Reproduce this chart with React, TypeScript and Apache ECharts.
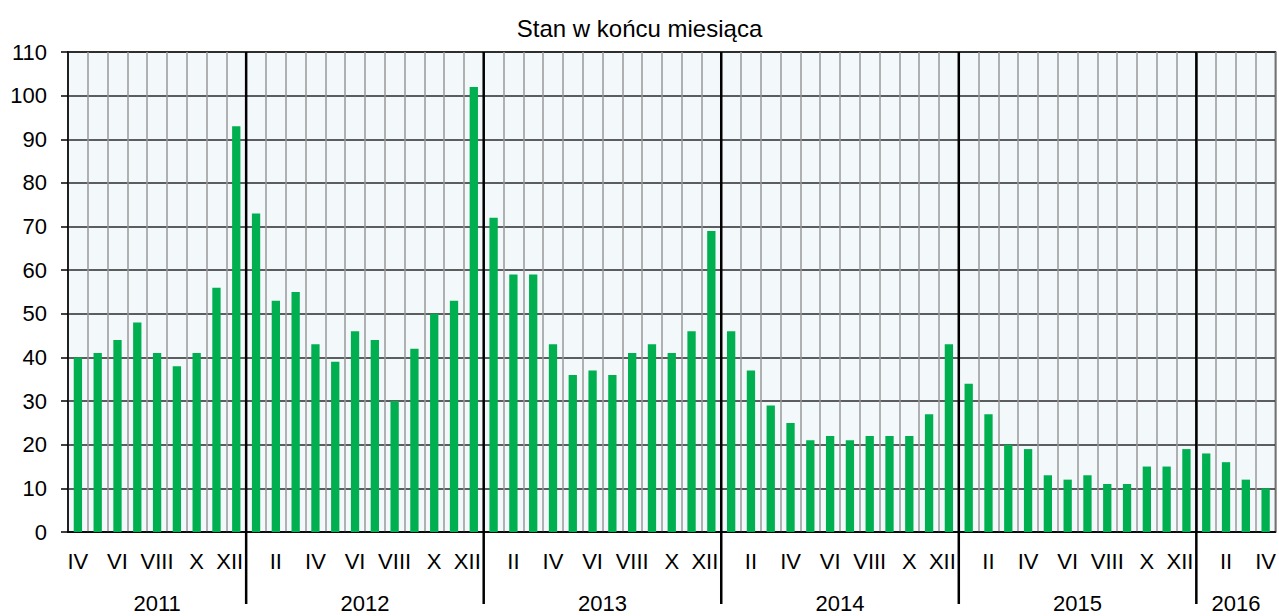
import React, { useEffect, useRef } from "react";
import * as echarts from "echarts";

const titleText = "Stan w końcu miesiąca";
const romanMonths = ["I", "II", "III", "IV", "V", "VI", "VII", "VIII", "IX", "X", "XI", "XII"];
const years = ["2011", "2012", "2013", "2014", "2015", "2016"];
const firstMonthOfYear = [4, 1, 1, 1, 1, 1];

const values2011 = [40, 41, 44, 48, 41, 38, 41, 56, 93];
const values2012 = [73, 53, 55, 43, 39, 46, 44, 30, 42, 50, 53, 102];
const values2013 = [72, 59, 59, 43, 36, 37, 36, 41, 43, 41, 46, 69];
const values2014 = [46, 37, 29, 25, 21, 22, 21, 22, 22, 22, 27, 43];
const values2015 = [34, 27, 20, 19, 13, 12, 13, 11, 11, 15, 15, 19];
const values2016 = [18, 16, 12, 10];
const valuesByYear = [values2011, values2012, values2013, values2014, values2015, values2016];

const yMin = 0;
const yMax = 110;
const yInterval = 10;

const FONT = "'Liberation Sans', Arial, Helvetica, sans-serif";

export default function App() {
  const ref = useRef<HTMLDivElement>(null);

  useEffect(() => {
    if (!ref.current) return;
    const chart = echarts.init(ref.current, null, { renderer: "svg" });

    const categories: string[] = [];
    const monthNums: number[] = [];
    const values: number[] = [];
    const spans: { start: number; end: number; label: string }[] = [];
    valuesByYear.forEach((arr, yi) => {
      const start = categories.length;
      arr.forEach((v, i) => {
        const m = firstMonthOfYear[yi] + i;
        categories.push(years[yi] + "-" + romanMonths[m - 1]);
        monthNums.push(m);
        values.push(v);
      });
      spans.push({ start, end: categories.length - 1, label: years[yi] });
    });

    const option: any = {
      animation: false,
      title: {
        text: titleText,
        left: "center",
        top: 11,
        textStyle: { fontFamily: FONT, fontSize: 24, fontWeight: "normal", color: "#000" },
      },
      grid: {
        left: 68,
        right: 2,
        top: 52,
        bottom: 84,
        show: true,
        backgroundColor: "#f3f8fb",
        borderColor: "#000",
        borderWidth: 1.5,
      },
      xAxis: {
        type: "category",
        data: categories,
        boundaryGap: true,
        axisLine: { show: true, lineStyle: { color: "#000", width: 1.5 } },
        axisTick: { show: false },
        splitLine: { show: true, interval: 0, lineStyle: { color: "#999", width: 1.5 } },
        axisLabel: {
          interval: 0,
          margin: 18,
          fontFamily: FONT,
          fontSize: 22,
          color: "#000",
          formatter: (_v: string, idx: number) => {
            const m = monthNums[idx];
            if (m % 2 !== 0) return "";
            return m === 12 ? "{end|XII}" : romanMonths[m - 1];
          },
          rich: {
            end: { fontFamily: FONT, fontSize: 22, color: "#000", padding: [0, 13, 0, 0] },
          },
        },
      },
      yAxis: {
        type: "value",
        min: yMin,
        max: yMax,
        interval: yInterval,
        axisLine: { show: true, lineStyle: { color: "#000", width: 1.5 } },
        axisTick: { show: true, inside: false, length: 7, lineStyle: { color: "#000", width: 1.5 } },
        splitLine: { show: true, lineStyle: { color: "#2a2a2a", width: 1.5 } },
        axisLabel: { margin: 21, fontFamily: FONT, fontSize: 22, color: "#000" },
      },
      series: [
        {
          type: "bar",
          data: values,
          barWidth: "42%",
          itemStyle: { color: "#00b050" },
          z: 2,
        },
        {
          type: "custom",
          z: 5,
          clip: false,
          data: spans.map((s) => [s.start, 0]),
          encode: { x: 0, y: 1 },
          renderItem: (params: any, api: any) => {
            const s = spans[params.dataIndex];
            const bw = api.size([1, 0])[0];
            const top = api.coord([s.start, yMax])[1];
            const bottom = api.coord([s.start, yMin])[1];
            const x0 = api.coord([s.start, 0])[0] - bw / 2;
            const x1 = api.coord([s.end, 0])[0] + bw / 2;
            const children: any[] = [
              {
                type: "text",
                style: {
                  text: s.label,
                  x: (x0 + x1) / 2,
                  y: bottom + 71,
                  align: "center",
                  verticalAlign: "middle",
                  fontFamily: FONT,
                  fontSize: 22,
                  fill: "#000",
                },
              },
            ];
            if (params.dataIndex < spans.length - 1) {
              children.push({
                type: "line",
                shape: { x1: x1, y1: top, x2: x1, y2: bottom + 72 },
                style: { stroke: "#000", lineWidth: 2.5 },
              });
            }
            return { type: "group", children };
          },
        },
      ],
    };

    chart.setOption(option);
    return () => chart.dispose();
  }, []);

  return (
    <div
      ref={ref}
      style={{ position: "fixed", left: 0, top: 0, width: 1279, height: 616, background: "#fff" }}
    />
  );
}
